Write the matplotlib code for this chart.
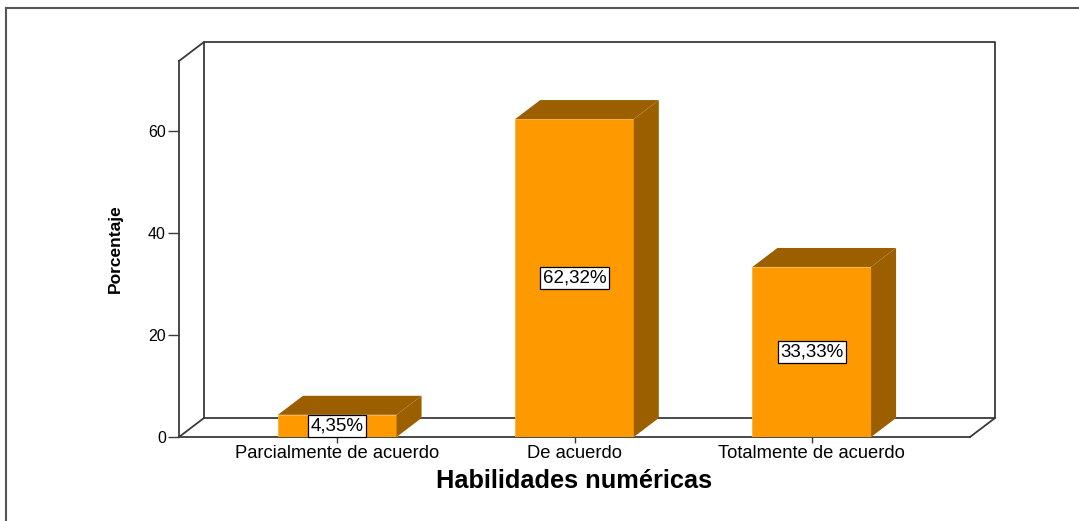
import matplotlib
matplotlib.use('Agg')
import matplotlib.pyplot as plt
from matplotlib.patches import Polygon
from matplotlib.lines import Line2D
from matplotlib import font_manager

categorias = ['Parcialmente de acuerdo', 'De acuerdo', 'Totalmente de acuerdo']
porcentajes = [4.35, 62.32, 33.33]
etiquetas = ['4,35%', '62,32%', '33,33%']
yticks = [0, 20, 40, 60]

plt.rcParams['font.family'] = ['Liberation Sans', 'DejaVu Sans']

# fuente estrecha para el titulo del eje y (si existe)
nombres = {f.name for f in font_manager.fontManager.ttflist}
if 'Liberation Sans Narrow' in nombres:
    fuente_y = ['Liberation Sans Narrow', 'Liberation Sans']
    tam_y = 14.5
else:
    fuente_y = ['Liberation Sans', 'DejaVu Sans']
    tam_y = 12.5

W, H = 1079, 521
fig = plt.figure(figsize=(W / 100, H / 100), dpi=100)
ax = fig.add_axes([179 / W, (H - 437) / H, 791 / W, 376 / H])

xmin, xmax = -0.667, 2.667
ymax = 73.7
ax.set_xlim(xmin, xmax)
ax.set_ylim(0, ymax)
ax.patch.set_visible(False)

# profundidad 3D (unos 25 px a la derecha, 19 px hacia arriba)
dx = 25 * (xmax - xmin) / 791
dy = 19 * ymax / 376

linea = '#3a3a3a'
lw = 1.3
frente = '#FF9900'
lado = '#9C5F00'

# plano del fondo
ax.plot([xmin + dx, xmax + dx, xmax + dx, xmin + dx, xmin + dx],
        [dy, dy, ymax + dy, ymax + dy, dy], color=linea, lw=lw, clip_on=False, zorder=1)
ax.plot([xmin, xmin + dx], [0, dy], color=linea, lw=lw, clip_on=False, zorder=1)
ax.plot([xmin, xmin + dx], [ymax, ymax + dy], color=linea, lw=lw, clip_on=False, zorder=1)
ax.plot([xmax, xmax + dx], [0, dy], color=linea, lw=lw, clip_on=False, zorder=1)

for s in ['top', 'right']:
    ax.spines[s].set_visible(False)
for s in ['left', 'bottom']:
    ax.spines[s].set_color(linea)
    ax.spines[s].set_linewidth(lw)

x = list(range(len(categorias)))
ancho = 0.5
ax.bar(x, porcentajes, width=ancho, color=frente, edgecolor='#FFB040', lw=0.6, zorder=3)

for xi, h, txt in zip(x, porcentajes, etiquetas):
    x0, x1 = xi - ancho / 2, xi + ancho / 2
    techo = Polygon([(x0, h), (x0 + dx, h + dy), (x1 + dx, h + dy), (x1, h)],
                    closed=True, fc=lado, ec='none', clip_on=False, zorder=3)
    costado = Polygon([(x1, 0), (x1, h), (x1 + dx, h + dy), (x1 + dx, dy)],
                      closed=True, fc=lado, ec='none', clip_on=False, zorder=3)
    ax.add_patch(techo)
    ax.add_patch(costado)
    ax.text(xi, h / 2, txt, ha='center', va='center', fontsize=13.5, zorder=5,
            bbox=dict(boxstyle='square,pad=0.12', fc='white', ec='black', lw=0.9))

ax.set_xticks(x, categorias, fontsize=13.2)
ax.set_yticks(yticks, [str(v) for v in yticks], fontsize=11.5)
ax.tick_params(axis='x', length=4.5, width=1, pad=1.5, color=linea)
ax.tick_params(axis='y', length=8, width=1, pad=1.5, color=linea)

ax.set_xlabel('Habilidades numéricas', fontsize=18.3, fontweight='bold', labelpad=5)
ax.set_ylabel('Porcentaje', fontsize=tam_y, fontweight='bold', family=fuente_y, labelpad=18)

# marco exterior
fig.add_artist(Line2D([6 / W, 6 / W], [0, 1 - 8 / H], transform=fig.transFigure,
                      color='#555555', lw=1.5))
fig.add_artist(Line2D([6 / W, 1], [1 - 8 / H, 1 - 8 / H], transform=fig.transFigure,
                      color='#555555', lw=1.5))

fig.savefig('out.png', dpi=100)
